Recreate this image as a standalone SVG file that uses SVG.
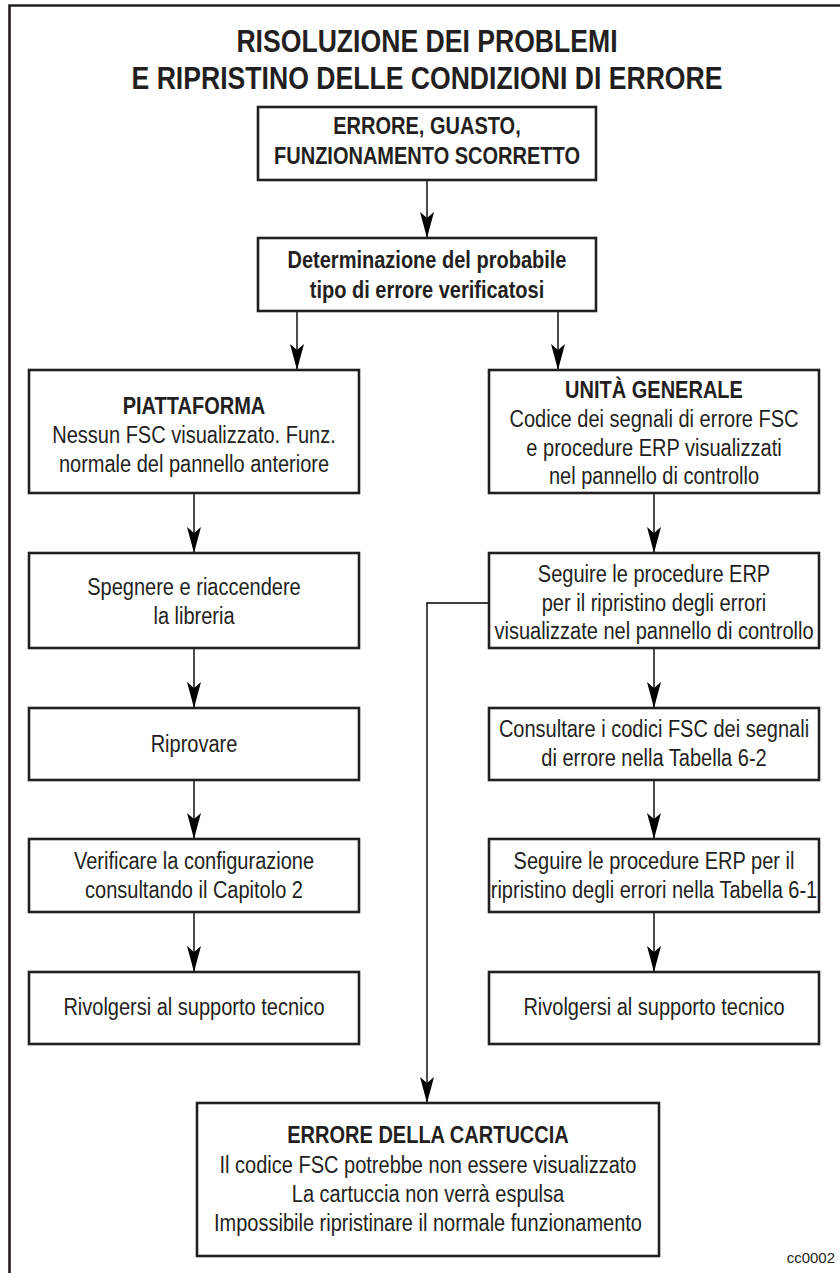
<svg xmlns="http://www.w3.org/2000/svg" width="840" height="1273" viewBox="0 0 840 1273">
<style>
  .box { fill: #ffffff; stroke: #231f20; stroke-width: 2.6; }
  .t { font-family: "Liberation Sans", Arial, sans-serif; font-size: 23px; fill: #231f20; text-anchor: middle; }
  .b { font-weight: bold; }
  .title { font-family: "Liberation Sans", Arial, sans-serif; font-size: 31px; font-weight: bold; fill: #231f20; text-anchor: middle; }
  .conn { fill: none; stroke: #000000; stroke-width: 1.4; }
  .frame { fill: none; stroke: #231f20; stroke-width: 2.6; }
</style>
<defs>
  <marker id="arr" viewBox="0 0 26 14" refX="26" refY="7" markerWidth="26" markerHeight="14" markerUnits="userSpaceOnUse" orient="auto">
    <path d="M0,0 L26,7 L0,14 L6,7 Z" fill="#000000"/>
  </marker>
</defs>
<rect width="840" height="1273" fill="#ffffff"/>
<path class="frame" d="M9.5,1273 L9.5,5.5 L840,5.5"/>
<g id="title">
  <text class="title" transform="translate(427,52) scale(0.858,1)">RISOLUZIONE DEI PROBLEMI</text>
  <text class="title" transform="translate(427,89) scale(0.858,1)">E RIPRISTINO DELLE CONDIZIONI DI ERRORE</text>
</g>
<g id="connectors">
  <line class="conn" x1="427" y1="180" x2="427" y2="238" marker-end="url(#arr)"/>
  <line class="conn" x1="297" y1="311" x2="297" y2="370" marker-end="url(#arr)"/>
  <line class="conn" x1="558" y1="311" x2="558" y2="370" marker-end="url(#arr)"/>
  <line class="conn" x1="194" y1="493" x2="194" y2="553" marker-end="url(#arr)"/>
  <line class="conn" x1="194" y1="648" x2="194" y2="708" marker-end="url(#arr)"/>
  <line class="conn" x1="194" y1="780" x2="194" y2="839" marker-end="url(#arr)"/>
  <line class="conn" x1="194" y1="912" x2="194" y2="972" marker-end="url(#arr)"/>
  <line class="conn" x1="654" y1="493" x2="654" y2="553" marker-end="url(#arr)"/>
  <line class="conn" x1="654" y1="648" x2="654" y2="708" marker-end="url(#arr)"/>
  <line class="conn" x1="654" y1="780" x2="654" y2="839" marker-end="url(#arr)"/>
  <line class="conn" x1="654" y1="912" x2="654" y2="972" marker-end="url(#arr)"/>
  <path class="conn" d="M489,603 L427,603 L427,1103" marker-end="url(#arr)"/>
</g>
<g id="n-errore">
  <rect class="box" x="258" y="107" width="338" height="73"/>
  <text class="t b" transform="translate(427,134) scale(0.87,1)">ERRORE, GUASTO,</text>
  <text class="t b" transform="translate(427,164) scale(0.87,1)">FUNZIONAMENTO SCORRETTO</text>
</g>
<g id="n-determinazione">
  <rect class="box" x="258" y="238" width="338" height="73"/>
  <text class="t b" transform="translate(427,268) scale(0.87,1)">Determinazione del probabile</text>
  <text class="t b" transform="translate(427,298) scale(0.87,1)">tipo di errore verificatosi</text>
</g>
<g id="n-piattaforma">
  <rect class="box" x="29" y="370" width="330" height="123"/>
  <text class="t b" transform="translate(194,414) scale(0.87,1)">PIATTAFORMA</text>
  <text class="t" transform="translate(194,443) scale(0.87,1)">Nessun FSC visualizzato. Funz.</text>
  <text class="t" transform="translate(194,472) scale(0.87,1)">normale del pannello anteriore</text>
</g>
<g id="n-unita">
  <rect class="box" x="489" y="370" width="330" height="123"/>
  <text class="t b" transform="translate(654,398) scale(0.87,1)">UNITÀ GENERALE</text>
  <text class="t" transform="translate(654,427) scale(0.87,1)">Codice dei segnali di errore FSC</text>
  <text class="t" transform="translate(654,456) scale(0.87,1)">e procedure ERP visualizzati</text>
  <text class="t" transform="translate(654,484) scale(0.87,1)">nel pannello di controllo</text>
</g>
<g id="n-spegnere">
  <rect class="box" x="29" y="553" width="330" height="95"/>
  <text class="t" transform="translate(194,595) scale(0.87,1)">Spegnere e riaccendere</text>
  <text class="t" transform="translate(194,624) scale(0.87,1)">la libreria</text>
</g>
<g id="n-riprovare">
  <rect class="box" x="29" y="708" width="330" height="72"/>
  <text class="t" transform="translate(194,752) scale(0.87,1)">Riprovare</text>
</g>
<g id="n-verificare">
  <rect class="box" x="29" y="839" width="330" height="73"/>
  <text class="t" transform="translate(194,869) scale(0.87,1)">Verificare la configurazione</text>
  <text class="t" transform="translate(194,898) scale(0.87,1)">consultando il Capitolo 2</text>
</g>
<g id="n-supporto-sx">
  <rect class="box" x="29" y="972" width="330" height="72"/>
  <text class="t" transform="translate(194,1015) scale(0.87,1)">Rivolgersi al supporto tecnico</text>
</g>
<g id="n-seguire-erp">
  <rect class="box" x="489" y="553" width="330" height="95"/>
  <text class="t" transform="translate(654,582) scale(0.87,1)">Seguire le procedure ERP</text>
  <text class="t" transform="translate(654,611) scale(0.87,1)">per il ripristino degli errori</text>
  <text class="t" transform="translate(654,639) scale(0.87,1)">visualizzate nel pannello di controllo</text>
</g>
<g id="n-consultare">
  <rect class="box" x="489" y="708" width="330" height="72"/>
  <text class="t" transform="translate(654,737) scale(0.87,1)">Consultare i codici FSC dei segnali</text>
  <text class="t" transform="translate(654,766) scale(0.87,1)">di errore nella Tabella 6-2</text>
</g>
<g id="n-seguire-tab">
  <rect class="box" x="489" y="839" width="330" height="73"/>
  <text class="t" transform="translate(654,869) scale(0.87,1)">Seguire le procedure ERP per il</text>
  <text class="t" transform="translate(654,898) scale(0.87,1)">ripristino degli errori nella Tabella 6-1</text>
</g>
<g id="n-supporto-dx">
  <rect class="box" x="489" y="972" width="330" height="72"/>
  <text class="t" transform="translate(654,1015) scale(0.87,1)">Rivolgersi al supporto tecnico</text>
</g>
<g id="n-cartuccia">
  <rect class="box" x="197" y="1103" width="462" height="153"/>
  <text class="t b" transform="translate(428,1143) scale(0.87,1)">ERRORE DELLA CARTUCCIA</text>
  <text class="t" transform="translate(428,1173) scale(0.87,1)">Il codice FSC potrebbe non essere visualizzato</text>
  <text class="t" transform="translate(428,1202) scale(0.87,1)">La cartuccia non verrà espulsa</text>
  <text class="t" transform="translate(428,1231) scale(0.87,1)">Impossibile ripristinare il normale funzionamento</text>
</g>
<text x="835" y="1263" style="font-family: 'Liberation Sans', Arial, sans-serif; font-size: 15px; fill: #231f20; text-anchor: end;">cc0002</text>
</svg>
